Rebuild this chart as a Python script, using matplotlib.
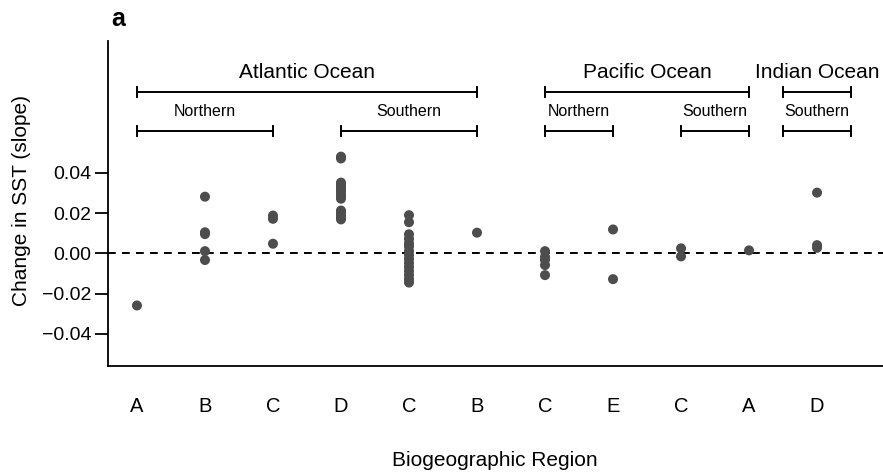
import matplotlib
matplotlib.use("Agg")
import matplotlib.pyplot as plt

plt.rcParams["font.family"] = ["Liberation Sans", "DejaVu Sans"]

# region labels along the x axis (one slot per group)
region_labels = ["A", "B", "C", "D", "C", "B", "C", "E", "C", "A", "D"]

# SST slopes per group
slopes = [
    [-0.0259],
    [0.0282, 0.0105, 0.0096, 0.0011, -0.0033],
    [0.0188, 0.0172, 0.0048],
    [0.0481, 0.0472, 0.0352, 0.0342, 0.0332, 0.0320, 0.0308, 0.0296, 0.0284,
     0.0272, 0.0213, 0.0202, 0.0191, 0.0180, 0.0169],
    [0.0190, 0.0155, 0.0095, 0.0072, 0.0050, 0.0035, 0.0012, -0.0008, -0.0028,
     -0.0048, -0.0068, -0.0088, -0.0108, -0.0128, -0.0145],
    [0.0103],
    [0.0011, -0.0017, -0.0032, -0.0058, -0.0108],
    [0.0119, -0.0128],
    [0.0025, -0.0015],
    [0.0015],
    [0.0302, 0.0041, 0.0028],
]

# ocean brackets: (label, start slot, end slot)
oceans = [("Atlantic Ocean", 1, 6), ("Pacific Ocean", 7, 10), ("Indian Ocean", 10.5, 11.5)]
hemispheres = [("Northern", 1, 3), ("Southern", 4, 6), ("Northern", 7, 8),
               ("Southern", 9, 10), ("Southern", 10.5, 11.5)]

fig = plt.figure(figsize=(8.83, 4.74), dpi=100)
ax = fig.add_axes([0.1223, 0.2278, 0.8777, 0.6857])

xs, ys = [], []
for i, vals in enumerate(slopes):
    xs += [i + 1] * len(vals)
    ys += vals
ax.scatter(xs, ys, s=52, color="#4d4d4d", edgecolors="none", zorder=3)

ax.axhline(0, color="black", lw=1.4, ls=(0, (4, 3.2)), zorder=2)


def bracket(x0, x1, y, label, ty, size):
    cap = 0.0025
    ax.plot([x0, x1], [y, y], color="black", lw=1.4, clip_on=False)
    ax.plot([x0, x0], [y - cap, y + cap], color="black", lw=1.4, clip_on=False)
    ax.plot([x1, x1], [y - cap, y + cap], color="black", lw=1.4, clip_on=False)
    ax.text((x0 + x1) / 2, ty, label, ha="center", va="center", fontsize=size)


for name, a, b in oceans:
    bracket(a, b, 0.0802, name, 0.0897, 15)
for name, a, b in hemispheres:
    bracket(a, b, 0.0608, name, 0.0703, 11.5)

ax.set_xlim(0.574, 11.97)
ax.set_ylim(-0.056, 0.1056)
ax.set_yticks([-0.04, -0.02, 0.0, 0.02, 0.04])
ax.set_yticklabels(["\u22120.04", "\u22120.02", "0.00", "0.02", "0.04"])
ax.set_xticks(range(1, len(region_labels) + 1))
ax.set_xticklabels(region_labels)
ax.tick_params(axis="x", length=0, pad=22, labelsize=14.5)
ax.tick_params(axis="y", length=9.5, width=1.3, labelsize=14, pad=2.5)
for side in ("top", "right"):
    ax.spines[side].set_visible(False)
for side in ("left", "bottom"):
    ax.spines[side].set_linewidth(1.3)

fig.text(22 / 883, 1 - 200 / 474, "Change in SST (slope)", rotation=90,
         ha="center", va="center", fontsize=15)
fig.text(495 / 883, 1 - 461 / 474, "Biogeographic Region", ha="center",
         va="center", fontsize=15)
fig.text(118 / 883, 1 - 19 / 474, "a", ha="center", va="center",
         fontsize=18, fontweight="bold")

fig.savefig("out.png", dpi=100)
